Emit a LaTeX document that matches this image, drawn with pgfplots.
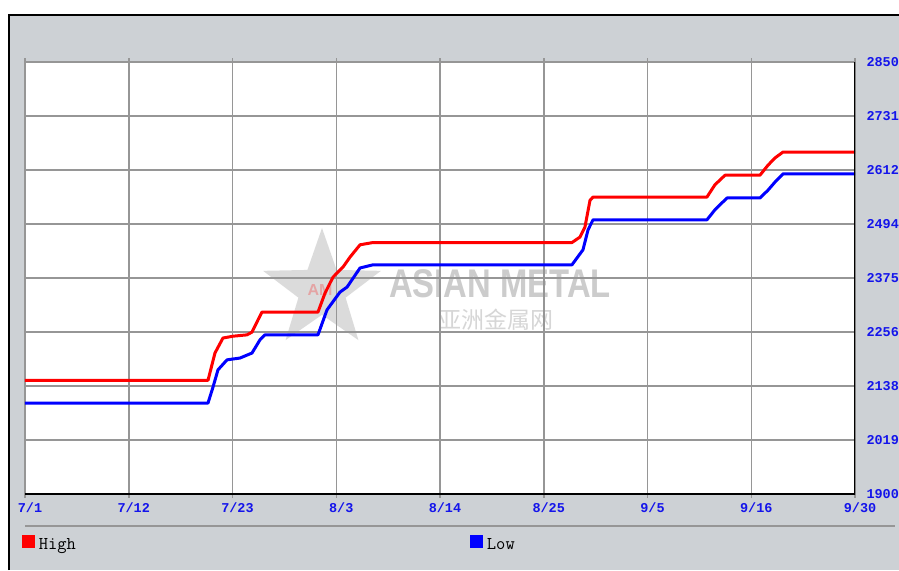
\documentclass[border=0pt]{standalone}
\usepackage{fontspec}
\usepackage{pgfplots}
\pgfplotsset{compat=1.18}
\usetikzlibrary{shapes.geometric}
\newfontfamily\monoA{Liberation Mono}
\newfontfamily\wmfont{Liberation Sans}
\newfontfamily\cjk{Noto Sans CJK SC}
\definecolor{framegray}{RGB}{205,209,213}
\definecolor{gridgray}{RGB}{150,150,150}
\definecolor{tickblue}{RGB}{20,20,235}
\begin{document}
\begin{tikzpicture}
% page, frame (1pt = 1px of the reference; plot box lower-left at pixel (25,494))
\useasboundingbox (-25pt,-76pt) rectangle (874pt,494pt);
\fill[white] (-25pt,-76pt) rectangle (874pt,494pt);
\fill[framegray] (-16pt,-76pt) rectangle (874pt,479pt);
\draw[black, line width=1.5pt] (-16pt,-76pt) -- (-16pt,479pt) -- (874pt,479pt);
\fill[white] (0pt,0pt) rectangle (830pt,432pt);
\draw[gridgray, line width=2pt] (0pt,-32pt) -- (870pt,-32pt);
% watermark
\node[star, star points=5, star point ratio=2.5, minimum size=124pt, inner sep=0pt,
      fill=gray, opacity=0.28] at (297pt,204pt) {};
\node[text=red, opacity=0.25, font=\wmfont\bfseries\fontsize{16}{18}\selectfont] at (295pt,204pt) {AM};
\node[text=gray, opacity=0.4, font=\wmfont\bfseries\fontsize{40}{44}\selectfont, xscale=0.82] at (475pt,210pt) {ASIAN METAL};
\node[text=gray, opacity=0.32, font=\cjk\fontsize{23}{26}\selectfont] at (471pt,174pt) {亚洲金属网};
\begin{axis}[
  at={(0pt,0pt)}, anchor=south west,
  scale only axis, width=830pt, height=432pt,
  xmin=0, xmax=8, ymin=1900, ymax=2850,
  xtick={0,1,2,3,4,5,6,7,8},
  xticklabels={7/1,7/12,7/23,8/3,8/14,8/25,9/5,9/16,9/30},
  ytick={1900,2018.75,2137.5,2256.25,2375,2493.75,2612.5,2731.25,2850},
  yticklabels={1900,2019,2138,2256,2375,2494,2612,2731,2850},
  yticklabel pos=right,
  grid=major,
  major grid style={gridgray, line width=1.5pt},
  axis line style={gridgray, line width=1.5pt},
  tick align=outside,
  major tick length=4pt,
  xtick style={gridgray, line width=1.5pt},
  ytick style={draw=none},
  ticklabel style={font=\monoA\bfseries\fontsize{13.5}{16}\selectfont, text=tickblue},
  xticklabel style={xshift=5pt, yshift=-1pt},
  yticklabel style={xshift=4pt},
  legend columns=2,
  legend style={at={(rel axis cs:-0.004,-0.094)}, anchor=north west,
    draw=none, fill=none, inner sep=0pt,
    font=\ttfamily\fontsize{18}{20}\selectfont,
    /tikz/every even column/.append style={column sep=392pt},
    /tikz/every odd column/.append style={column sep=2pt}},
  legend image code/.code={\fill[#1, draw=none] (0pt,-3pt) rectangle (13pt,10pt);},
]
\addplot[red, line width=3pt, line join=round] coordinates {
(0,2150) (1.764,2150) (1.831,2210) (1.908,2243) (2.005,2247) (2.140,2250)
(2.188,2256) (2.246,2283) (2.284,2300) (2.824,2300) (2.892,2342) (2.969,2377)
(3.065,2399) (3.133,2421) (3.229,2448) (3.354,2453) (5.272,2453) (5.349,2465)
(5.397,2487) (5.446,2546) (5.475,2553) (6.573,2553) (6.650,2580) (6.747,2601)
(7.084,2601) (7.161,2623) (7.229,2639) (7.306,2652) (8,2652)
};
\addlegendentry{High}
\addplot[blue, line width=3pt, line join=round] coordinates {
(0,2100) (1.764,2100) (1.812,2135) (1.860,2173) (1.947,2195) (2.072,2199)
(2.188,2210) (2.265,2239) (2.313,2250) (2.824,2250) (2.911,2305) (3.036,2344)
(3.104,2355) (3.229,2397) (3.354,2404) (5.272,2404) (5.378,2437) (5.427,2481)
(5.475,2503) (6.573,2503) (6.650,2525) (6.766,2551) (7.084,2551) (7.161,2568)
(7.229,2586) (7.306,2604) (8,2604)
};
\addlegendentry{Low}
\draw[black, line width=2pt] (rel axis cs:0,0) -- (rel axis cs:1,0) -- (rel axis cs:1,1);
\end{axis}
\end{tikzpicture}
\end{document}
